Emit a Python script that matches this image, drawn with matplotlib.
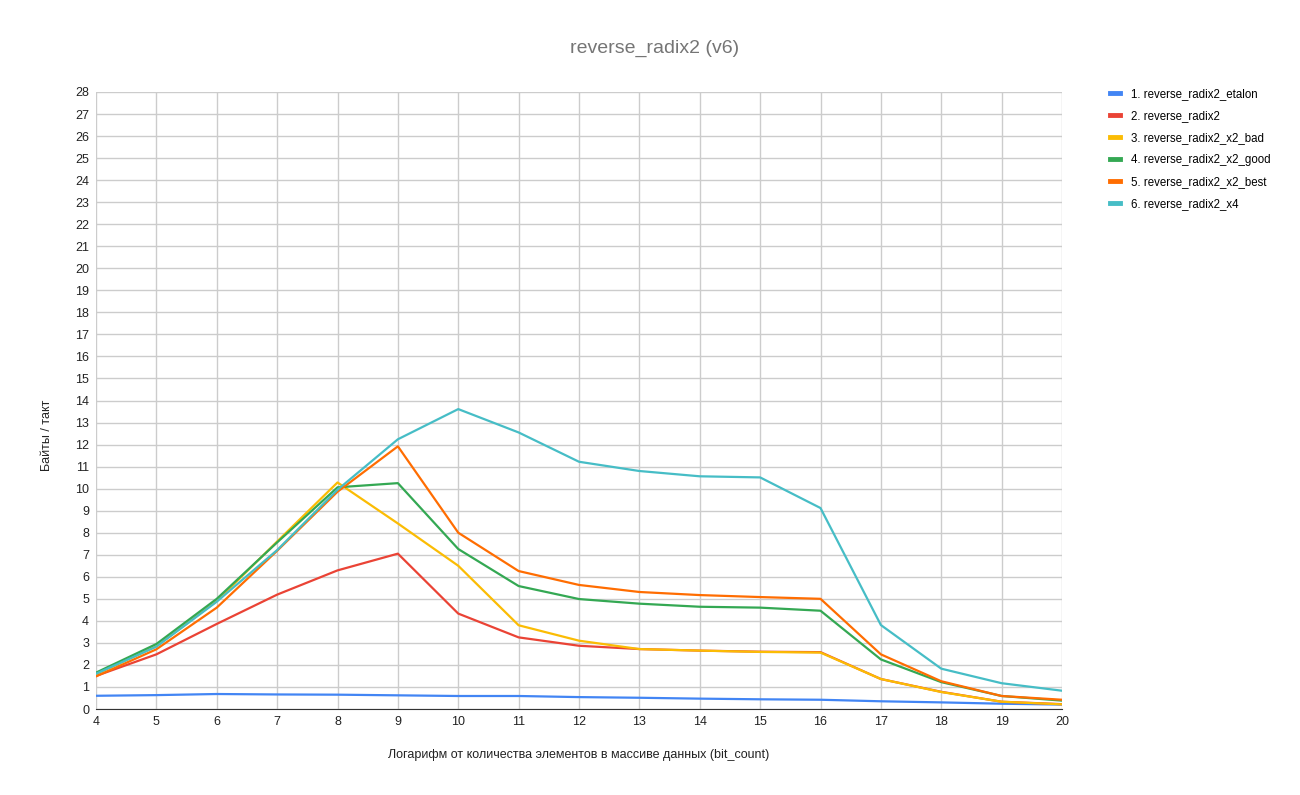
import matplotlib
matplotlib.use("Agg")
import matplotlib.pyplot as plt
from matplotlib.lines import Line2D

plt.rcParams['font.family'] = ['Liberation Sans', 'DejaVu Sans']

#x axis: log2 of element count
bit_count = list(range(4, 21))

etalon = [0.6, 0.63, 0.68, 0.66, 0.65, 0.62, 0.59, 0.59, 0.54, 0.51, 0.47, 0.44, 0.42, 0.35, 0.3, 0.24, 0.2]
radix2 = [1.5, 2.48, 3.86, 5.19, 6.29, 7.05, 4.33, 3.25, 2.87, 2.72, 2.65, 2.6, 2.58, 1.36, 0.78, 0.33, 0.22]
x2_bad = [1.58, 2.85, 4.9, 7.6, 10.28, 8.42, 6.5, 3.8, 3.1, 2.72, 2.65, 2.59, 2.56, 1.36, 0.77, 0.33, 0.21]
x2_good = [1.65, 2.95, 5.0, 7.56, 10.06, 10.25, 7.26, 5.58, 4.99, 4.78, 4.64, 4.6, 4.46, 2.25, 1.22, 0.59, 0.38]
x2_best = [1.48, 2.71, 4.6, 7.18, 9.86, 11.92, 8.0, 6.26, 5.63, 5.31, 5.17, 5.08, 5.0, 2.48, 1.26, 0.59, 0.42]
x4 = [1.6, 2.83, 4.87, 7.21, 9.95, 12.24, 13.61, 12.55, 11.22, 10.8, 10.56, 10.51, 9.12, 3.81, 1.83, 1.17, 0.83]

names = ['1. reverse_radix2_etalon', '2. reverse_radix2', '3. reverse_radix2_x2_bad',
         '4. reverse_radix2_x2_good', '5. reverse_radix2_x2_best', '6. reverse_radix2_x4']
colors = ['#4285F4', '#EA4335', '#FBBC04', '#34A853', '#FF6D01', '#46BDC6']
series = [etalon, radix2, x2_bad, x2_good, x2_best, x4]

fig = plt.figure(figsize=(13, 7.95), dpi=100)
ax = fig.add_axes([96/1300, 86/795, (1062-96)/1300, (709-92)/795])

for ys, c in zip(series, colors):
    ax.plot(bit_count, ys, color=c, lw=1.6)

ax.set_xlim(4, 20)
ax.set_ylim(0, 28)
ax.set_xticks(bit_count)
ax.set_yticks(range(0, 29))
ax.grid(True, color='#cccccc', lw=1)
ax.set_axisbelow(True)
for s in ['top', 'right', 'left']:
    ax.spines[s].set_visible(False)
ax.spines['bottom'].set_color('#333333')
ax.tick_params(length=0, labelsize=9, colors='#222222', pad=5)

fig.text(655/1300, 1-48/795, 'reverse_radix2 (v6)', ha='center', va='center', fontsize=14, color='#757575')
ax.set_xlabel('Логарифм от количества элементов в массиве данных (bit_count)', fontsize=9, color='#222222', labelpad=15)
fig.text(47/1300, 1-435/795, 'Байты / такт', rotation=90, fontsize=9, color='#222222', ha='center', va='center')

handles = [Line2D([0], [0], color=c, lw=3.5) for c in colors]
fig.legend(handles, names, loc='upper left', bbox_to_anchor=(1100/1300, 1-78/795),
           frameon=False, fontsize=8.3, handlelength=0.8, labelspacing=0.86, handletextpad=1.0)

plt.savefig('out.png')
